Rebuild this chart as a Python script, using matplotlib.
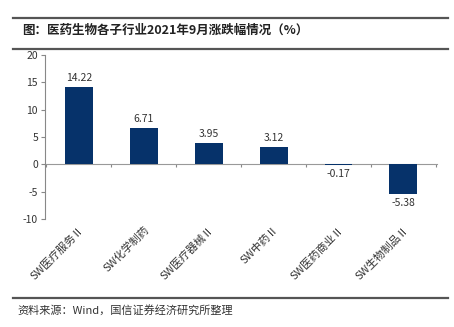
import matplotlib
matplotlib.use("Agg")
import matplotlib.pyplot as plt
from matplotlib.lines import Line2D

plt.rcParams['font.family'] = ['Noto Sans CJK SC', 'DejaVu Sans']

categories = ["SW医疗服务Ⅱ", "SW化学制药", "SW医疗器械Ⅱ", "SW中药Ⅱ", "SW医药商业Ⅱ", "SW生物制品Ⅱ"]
values = [14.22, 6.71, 3.95, 3.12, -0.17, -5.38]
yticks = [-10, -5, 0, 5, 10, 15, 20]

fig = plt.figure(figsize=(4.54, 3.27), dpi=100)
ax = fig.add_axes([0.099, 0.330, 0.864, 0.502])
x = list(range(len(categories)))
ax.bar(x, values, width=0.43, color="#06326a", zorder=2)
ax.set_xlim(-0.52, 5.52)
ax.set_ylim(-10, 20)
ax.set_yticks(yticks)
ax.set_yticklabels([str(t) for t in yticks], fontsize=7.5, color="#333333")
ax.set_xticks(x)
ax.set_xticklabels(categories, rotation=45, ha="right", rotation_mode="anchor", fontsize=7.8, color="#333333")
ax.tick_params(axis="x", length=0, pad=4)
ax.tick_params(axis="y", length=3, color="#888888", width=0.8, pad=2)
for s in ["top", "right", "bottom"]:
    ax.spines[s].set_visible(False)
ax.spines["left"].set_color("#888888")
ax.spines["left"].set_linewidth(0.8)

# zero axis line with category-boundary ticks
sec = ax.secondary_xaxis(1 / 3)
sec.set_xticks([i - 0.5 for i in range(len(categories) + 1)])
sec.set_xticklabels([])
sec.tick_params(axis="x", length=2.5, color="#888888", width=0.8, direction="out")
sec.spines["bottom"].set_color("#999999")
sec.spines["bottom"].set_linewidth(0.8)

for xi, v in zip(x, values):
    if v >= 0:
        ax.text(xi, v + 0.7, f"{v:.2f}", ha="center", va="bottom", fontsize=7.5, color="#333333")
    else:
        ax.text(xi, v - 0.7, f"{v:.2f}", ha="center", va="top", fontsize=7.5, color="#333333")

# header lines and texts
for yy in [1 - 18 / 327, 1 - 49 / 327, 1 - 298 / 327]:
    fig.add_artist(Line2D([13 / 454, 448 / 454], [yy, yy], color="#555555", lw=1.6,
                          transform=fig.transFigure, zorder=10))
fig.text(22 / 454, 1 - 30 / 327, "图：医药生物各子行业2021年9月涨跌幅情况（%）", fontsize=9, fontweight="bold",
         va="center", ha="left", color="#222222")
fig.text(17 / 454, 1 - 310 / 327, "资料来源：Wind，国信证券经济研究所整理", fontsize=8, va="center", ha="left", color="#333333")

fig.savefig("out.png", dpi=100)
